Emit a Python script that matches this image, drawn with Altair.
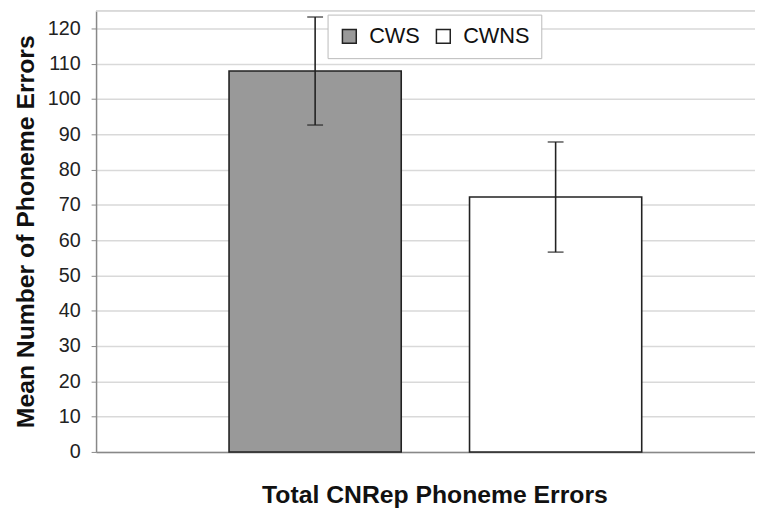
import altair as alt
import pandas as pd

groups = ["CWS", "CWNS"]
means = [107.9, 72.2]
errors = [15.3, 15.6]
fills = ["#999999", "#ffffff"]
y_ticks = list(range(0, 121, 10))

df = pd.DataFrame({"group": groups, "mean": means, "err": errors})

FONT = "Liberation Sans"
W, H = 666, 446

x_scale = alt.Scale(paddingInner=0.284, paddingOuter=0.512, align=0.54)
x_axis = alt.Axis(
    title="Total CNRep Phoneme Errors",
    labels=False,
    ticks=False,
    domainColor="#888888",
    domainWidth=1.5,
    titleFont=FONT,
    titleFontSize=25,
    titleFontWeight="bold",
    titleColor="#111111",
    titlePadding=31,
    titleX=342,
    grid=False,
)
y_scale = alt.Scale(domain=[0, 125], nice=False)
y_axis = alt.Axis(
    title="Mean Number of Phoneme Errors",
    values=y_ticks,
    labelOverlap=False,
    grid=True,
    gridColor="#d9d9d9",
    gridWidth=1.5,
    domainColor="#888888",
    domainWidth=1.5,
    tickColor="#888888",
    tickSize=5,
    labelPadding=11,
    labelFont=FONT,
    labelFontSize=20,
    labelColor="#222222",
    titleFont=FONT,
    titleFontSize=25,
    titleFontWeight="bold",
    titleColor="#111111",
    titlePadding=9,
)

def X():
    return alt.X("group:N", sort=groups, scale=x_scale, axis=x_axis)

base = alt.Chart(df).transform_calculate(
    lo="datum.mean - datum.err", hi="datum.mean + datum.err"
)

bars = base.mark_bar(stroke="#222222", strokeWidth=1.6).encode(
    x=X(),
    y=alt.Y("mean:Q", scale=y_scale, axis=y_axis),
    fill=alt.Fill(
        "group:N",
        sort=groups,
        scale=alt.Scale(domain=groups, range=fills),
        legend=alt.Legend(
            title=None,
            orient="none",
            legendX=234,
            legendY=4,
            direction="horizontal",
            fillColor="white",
            strokeColor="#bbbbbb",
            padding=11,
            symbolType="square",
            symbolSize=196,
            symbolStrokeColor="#222222",
            symbolStrokeWidth=1.5,
            labelFont=FONT,
            labelFontSize=22,
            labelColor="#111111",
            labelOffset=9,
            columnPadding=12,
        ),
    ),
)

rules = base.mark_rule(color="#222222", strokeWidth=1.6).encode(
    x=X(),
    y=alt.Y("lo:Q", scale=y_scale, axis=y_axis),
    y2="hi:Q",
)
caps_hi = base.mark_tick(color="#222222", thickness=1.6, size=16).encode(
    x=X(),
    y=alt.Y("hi:Q", scale=y_scale, axis=y_axis),
)
caps_lo = base.mark_tick(color="#222222", thickness=1.6, size=16).encode(
    x=X(),
    y=alt.Y("lo:Q", scale=y_scale, axis=y_axis),
)
top_line = base.mark_rule(color="#d9d9d9", strokeWidth=1.5).encode(
    x=alt.value(0), x2=alt.value(W), y=alt.value(0)
)

chart = (
    alt.layer(top_line, bars, rules, caps_hi, caps_lo)
    .properties(
        width=W,
        height=H,
        autosize=alt.AutoSizeParams(type="none"),
        padding={"left": 89, "top": 0, "right": 0, "bottom": 55},
    )
    .configure_view(stroke=None)
    .configure(background="white")
)

chart.save("out.html", embed_options={"renderer": "svg", "actions": False})
